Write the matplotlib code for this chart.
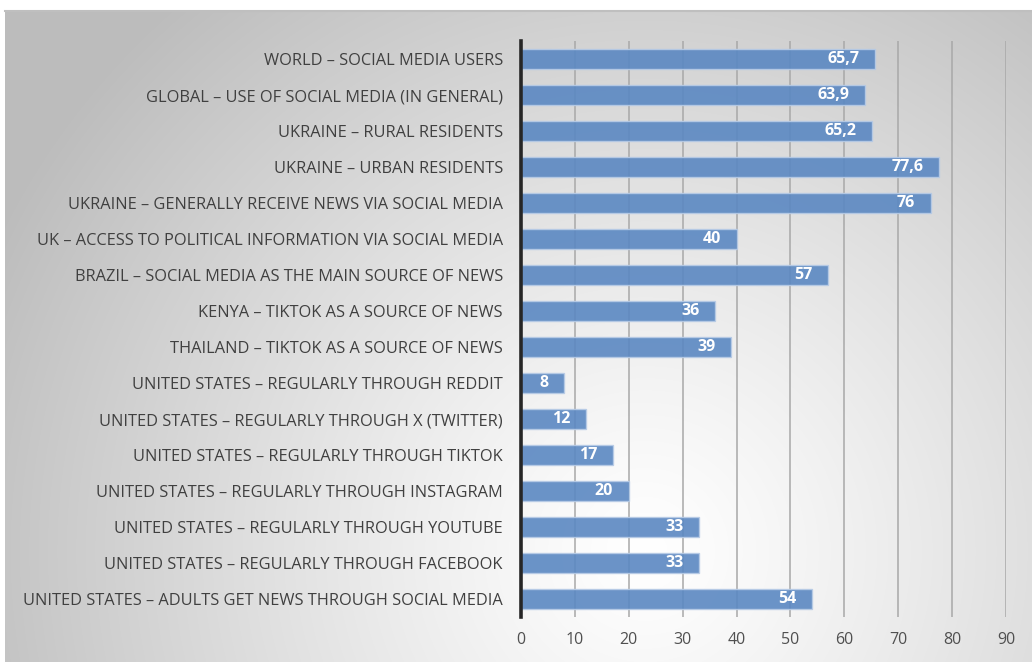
import numpy as np
import matplotlib
matplotlib.use("Agg")
import matplotlib.pyplot as plt

categories = [
    "WORLD – SOCIAL MEDIA USERS",
    "GLOBAL – USE OF SOCIAL MEDIA (IN GENERAL)",
    "UKRAINE – RURAL RESIDENTS",
    "UKRAINE – URBAN RESIDENTS",
    "UKRAINE – GENERALLY RECEIVE NEWS VIA SOCIAL MEDIA",
    "UK – ACCESS TO POLITICAL INFORMATION VIA SOCIAL MEDIA",
    "BRAZIL – SOCIAL MEDIA AS THE MAIN SOURCE OF NEWS",
    "KENYA – TIKTOK AS A SOURCE OF NEWS",
    "THAILAND – TIKTOK AS A SOURCE OF NEWS",
    "UNITED STATES – REGULARLY THROUGH REDDIT",
    "UNITED STATES – REGULARLY THROUGH X (TWITTER)",
    "UNITED STATES – REGULARLY THROUGH TIKTOK",
    "UNITED STATES – REGULARLY THROUGH INSTAGRAM",
    "UNITED STATES – REGULARLY THROUGH YOUTUBE",
    "UNITED STATES – REGULARLY THROUGH FACEBOOK",
    "UNITED STATES – ADULTS GET NEWS THROUGH SOCIAL MEDIA",
]
values = [65.7, 63.9, 65.2, 77.6, 76, 40, 57, 36, 39, 8, 12, 17, 20, 33, 33, 54]
value_labels = ["65,7", "63,9", "65,2", "77,6", "76", "40", "57", "36", "39",
                "8", "12", "17", "20", "33", "33", "54"]
xticks = [0, 10, 20, 30, 40, 50, 60, 70, 80, 90]

W, H = 1032, 662
fig = plt.figure(figsize=(W / 100, H / 100), dpi=100)
fig.patch.set_facecolor("white")

# background radial gradient
bg = fig.add_axes([5 / W, 0, 1 - 5 / W, 1 - 11 / H])
yy, xx = np.mgrid[0:651, 0:1027]
cx, cy = 640, 540
d = np.sqrt((xx - cx) ** 2 + (yy - cy) ** 2)
t = np.clip(d / 720, 0, 1)
g = 1.0 - 0.26 * t ** 1.2
img = np.dstack([g, g, g])
bg.imshow(img, aspect="auto", extent=[0, 1, 0, 1], origin="upper")
bg.set_axis_off()
fig.add_artist(plt.Line2D([5 / W, 1], [1 - 11 / H, 1 - 11 / H], color="#bfbfbf", lw=1.5))

ax = fig.add_axes([521 / W, 1 - 617 / H, (1006 - 521) / W, (617 - 41) / H])
ax.patch.set_alpha(0)
y = np.arange(len(categories))
ax.set_axisbelow(True)
ax.xaxis.grid(True, color="#a8a8a8", lw=1.1)
ax.barh(y, values, height=0.56, color="#5b88c2", alpha=0.9,
        edgecolor="#b7cbe6", linewidth=1.0, zorder=2)
for yi, v, lab in zip(y, values, value_labels):
    ax.text(v - 2.9, yi, lab, ha="right", va="center", color="white",
            fontsize=11.5, fontweight="bold", family="Open Sans", zorder=3)

ax.set_ylim(len(categories) - 0.5, -0.5)
ax.set_xlim(0, 90)
ax.set_yticks(y)
ax.set_yticklabels(categories, family="Open Sans", fontsize=11.8, color="#404040")
ax.set_xticks(xticks)
ax.set_xticklabels([str(v) for v in xticks], family="Open Sans", fontsize=11.5, color="#505050")
ax.tick_params(axis="y", length=0, pad=13)
ax.tick_params(axis="x", length=0, pad=11)
for s in ["top", "right", "bottom"]:
    ax.spines[s].set_visible(False)
ax.spines["left"].set_color("#262626")
ax.spines["left"].set_linewidth(2.6)

fig.savefig("out.png", dpi=100)
